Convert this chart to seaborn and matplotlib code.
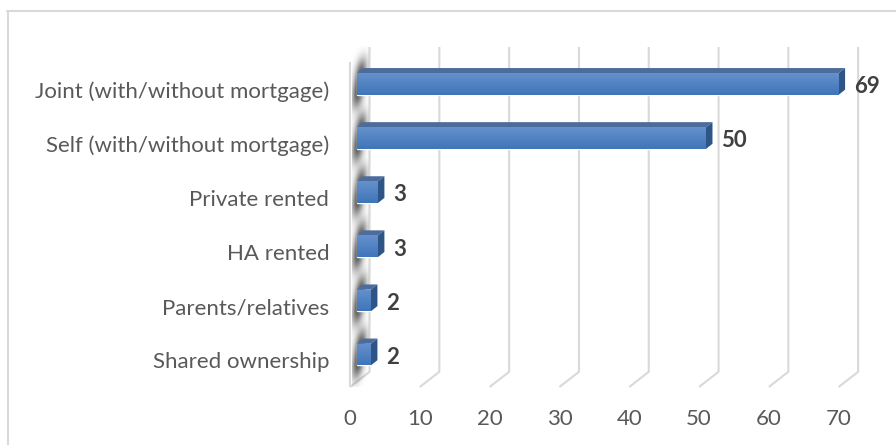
import numpy as np
import matplotlib
matplotlib.use("Agg")
import matplotlib.pyplot as plt
from matplotlib.colors import LinearSegmentedColormap
from matplotlib.patches import Polygon
from matplotlib.transforms import ScaledTranslation
import seaborn as sns

categories = ["Joint (with/without mortgage)", "Self (with/without mortgage)", "Private rented",
              "HA rented", "Parents/relatives", "Shared ownership"]
values = [69, 50, 3, 3, 2, 2]
x_ticks = [0, 10, 20, 30, 40, 50, 60, 70]

sns.set_theme(style="white")
plt.rcParams['font.family'] = ['Lato', 'DejaVu Sans']

W, H = 896, 445
PX = 6.98        # pixels per unit
ROW = 54.1       # pixels per category
AX_LEFT = 350
AX_BOTTOM = 387

fig = plt.figure(figsize=(W / 100, H / 100), dpi=100, facecolor="white")
ax = fig.add_axes([AX_LEFT / W, 1 - AX_BOTTOM / H, (W - AX_LEFT) / W, AX_BOTTOM / H])

# chart frame, only top and left show in the reference
fig.add_artist(plt.Line2D([7.5 / W, 7.5 / W], [0, 1 - 10.5 / H], color="#d9d9d9", lw=1.5))
fig.add_artist(plt.Line2D([7 / W, 1], [1 - 10.5 / H, 1 - 10.5 / H], color="#d9d9d9", lw=1.5))

sns.barplot(x=values, y=categories, width=0.4, color="#4a7ebd", saturation=1, ax=ax, zorder=3)


def fix_limits():
    ax.set_xlim(-1, -1 + (W - AX_LEFT) / PX)
    ax.set_ylim((AX_BOTTOM - 84) / ROW, -84 / ROW)


fix_limits()

# 3d floor and wall grid
back_dx, front_dx = 1.8, -1.0
y_top, y_back, y_front = -0.684, 5.32, (AX_BOTTOM - 84) / ROW
grid_kw = dict(color="#d9d9d9", lw=1.5, solid_capstyle="butt", clip_on=False, zorder=1)
for t in x_ticks:
    ax.plot([t + front_dx, t + back_dx, t + back_dx], [y_front, y_back, y_top], **grid_kw)
ax.plot([front_dx, front_dx], [y_front, y_top + 0.28], **grid_kw)

# blurred shadow on the side wall
ny, nx = 340, 40
yy = np.linspace(y_top, y_front, ny)
xx = np.linspace(front_dx + 0.3, back_dx - 0.2, nx)
alpha = np.zeros((ny, nx))
for i in range(len(categories)):
    dy = (yy - i) * ROW
    slant = -dy * 0.14
    a_y = np.exp(-(np.abs(dy) / 24) ** 3)
    for j, x in enumerate(xx):
        alpha[:, j] += a_y * np.exp(-(((x * PX - 2 - slant) / 5.5) ** 2))
alpha = np.clip(alpha * 0.72, 0, 0.72)
rgba = np.zeros((ny, nx, 4))
rgba[..., 3] = alpha
sh = ax.imshow(rgba, extent=[xx[0], xx[-1], y_front, y_top], aspect="auto", origin="upper",
               zorder=1.5, interpolation="bilinear")
sh.set_clip_on(False)

# bar faces
dx, dy = 0.93, 0.095
cmap = LinearSegmentedColormap.from_list("bar", ["#6591cc", "#3f75b9"])
grad = np.linspace(0, 1, 64).reshape(-1, 1)
for patch in list(ax.patches):
    x0, y0 = patch.get_x(), patch.get_y()
    w, h = patch.get_width(), patch.get_height()
    ax.add_patch(Polygon([(x0, y0), (x0 + dx, y0 - dy), (x0 + w + dx, y0 - dy), (x0 + w, y0)],
                         facecolor="#4d6c9e", edgecolor="none", zorder=3))
    ax.add_patch(Polygon([(x0 + w, y0), (x0 + w + dx, y0 - dy), (x0 + w + dx, y0 + h - dy), (x0 + w, y0 + h)],
                         facecolor="#2f5587", edgecolor="none", zorder=3))
    im = ax.imshow(grad, extent=[x0, x0 + w, y0 + h, y0], aspect="auto", cmap=cmap, zorder=4)
    im.set_clip_path(patch)

labels = ax.bar_label(ax.containers[0], padding=11, fontsize=16, fontweight="bold", color="#404040", zorder=5)
for lab in labels:
    lab.xyann = (lab.xyann[0], lab.xyann[1] - 2)

ax.set_xticks([t + front_dx for t in x_ticks], labels=x_ticks)
ax.tick_params(axis="x", length=0, pad=16, labelsize=16, labelcolor="#595959")
ax.tick_params(axis="y", length=0, pad=15, labelsize=16, labelcolor="#595959")
# category text sits a little under the bar centres
shift = ScaledTranslation(0, -6 / 100, fig.dpi_scale_trans)
for lab in ax.get_yticklabels():
    lab.set_transform(lab.get_transform() + shift)
ax.set_xlabel("")
ax.set_ylabel("")
sns.despine(ax=ax, left=True, bottom=True)
ax.patch.set_alpha(0)
fix_limits()

fig.savefig("out.png", dpi=100)
